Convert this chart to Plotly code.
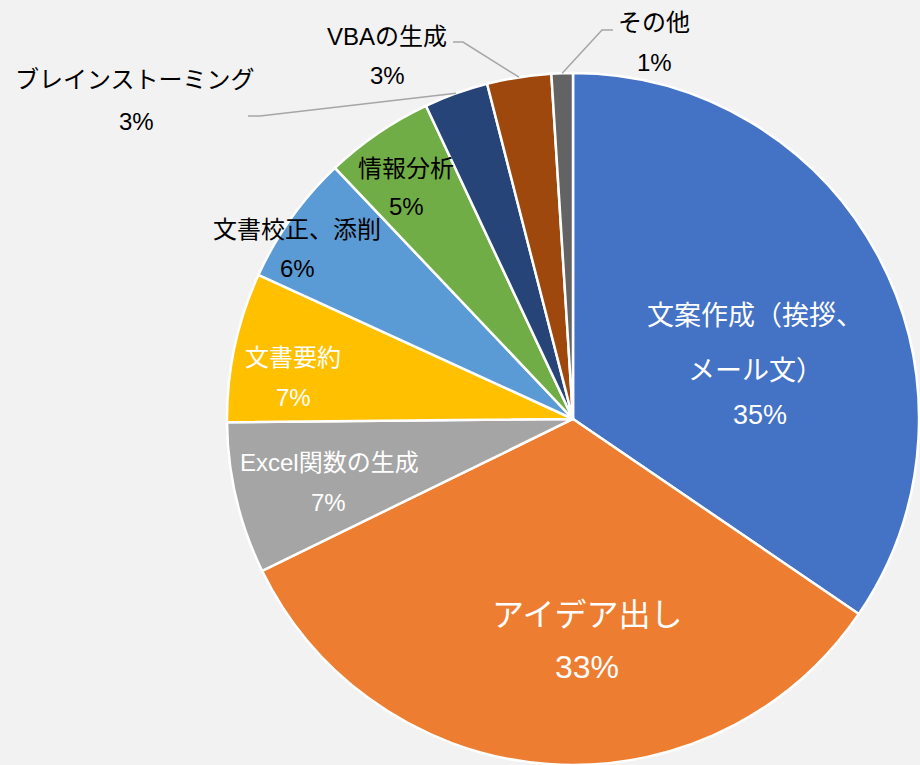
import math
import plotly.graph_objects as go

# ---- data ----
categories = ["文案作成（挨拶、メール文）", "アイデア出し", "Excel関数の生成", "文書要約",
              "文書校正、添削", "情報分析", "ブレインストーミング", "VBAの生成", "その他"]
values = [34.6, 33.3, 7.1, 7.0, 6.1, 5.1, 3.0, 3.0, 1.0]
# label lines as displayed (category text split into lines)
label_lines = [["文案作成（挨拶、", "メール文）"], ["アイデア出し"], ["Excel関数の生成"], ["文書要約"],
               ["文書校正、添削"], ["情報分析"], ["ブレインストーミング"], ["VBAの生成"], ["その他"]]

# ---- style ----
colors = ["#4472C4", "#ED7D31", "#A5A5A5", "#FFC000", "#5B9BD5",
          "#70AD47", "#264478", "#9E480E", "#636363"]
W, H = 920, 765
FONT = "Liberation Sans, Arial, Noto Sans CJK JP, sans-serif"

# label layout (pixel positions of each text line, and percent line), font sizes, colors
label_pos = [
    [(755, 316), (755, 371), (760, 415)],
    [(587, 615), (587, 667)],
    [(329, 462), (328, 502)],
    [(293, 357), (293, 397)],
    [(297, 229), (297, 268)],
    [(406, 168), (406, 207)],
    [(135, 80), (136, 121)],
    [(387, 36), (387, 76)],
    [(654, 22), (654, 62)],
]
label_size = [27, 32, 24, 24, 24, 24, 24, 24, 24]
label_color = ["white", "white", "white", "white", "black", "black", "black", "black", "black"]
# leader line start / elbow (pixels) for outside labels
leaders = {6: [(248, 116), (260, 116)], 7: [(453, 42), (463, 42)], 8: [(613, 30), (602, 30)]}

# pie geometry
dom_x = [226 / W, 1.0]
dom_y = [0.0, 0.9046]
cx = (dom_x[0] + dom_x[1]) / 2 * W
R = min((dom_x[1] - dom_x[0]) * W, (dom_y[1] - dom_y[0]) * H) / 2
cy = H - (dom_y[0] * H + R)

def px(x):
    return x / W

def py(y):
    return 1 - y / H

fig = go.Figure(go.Pie(
    labels=categories, values=values, sort=False, direction="clockwise", rotation=0,
    marker=dict(colors=colors, line=dict(color="white", width=2.5)),
    textinfo="none", hoverinfo="label+percent", showlegend=False,
    domain=dict(x=dom_x, y=dom_y),
))

total = sum(values)
annotations = []
shapes = []
cum = 0.0
for i, v in enumerate(values):
    pct = f"{v / total * 100:.0f}%"
    texts = label_lines[i] + [pct]
    for t, (x, y) in zip(texts, label_pos[i]):
        annotations.append(dict(
            x=px(x), y=py(y), xref="paper", yref="paper", text=t, showarrow=False,
            xanchor="center", yanchor="middle",
            font=dict(family=FONT, size=label_size[i], color=label_color[i]),
        ))
    mid = (cum + v / 2) / total * 2 * math.pi
    cum += v
    if i in leaders:
        ex = cx + R * math.sin(mid)
        ey = cy - R * math.cos(mid)
        pts = leaders[i] + [(ex, ey)]
        path = "M " + " L ".join(f"{px(a):.5f},{py(b):.5f}" for a, b in pts)
        shapes.append(dict(type="path", xref="paper", yref="paper", path=path,
                           line=dict(color="#A6A6A6", width=1.5)))

fig.update_layout(
    width=W, height=H,
    margin=dict(l=0, r=0, t=0, b=0),
    paper_bgcolor="#F2F2F2", plot_bgcolor="#F2F2F2",
    annotations=annotations, shapes=shapes,
    font=dict(family=FONT),
)

fig.write_html("out.html",
               config={"displayModeBar": False},
               post_script="document.body.style.margin='0';document.body.style.background='#F2F2F2';")
